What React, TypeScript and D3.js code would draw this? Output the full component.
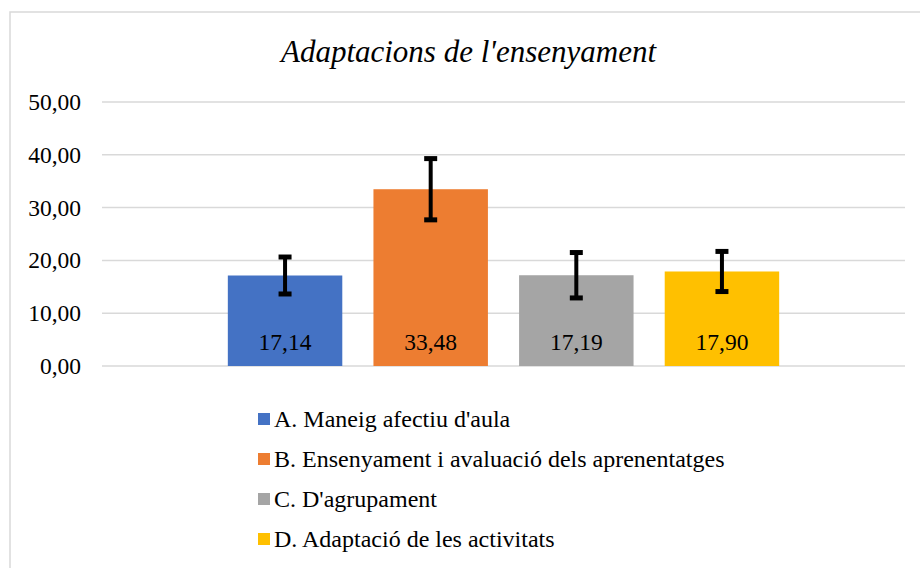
import React from "react";
import * as d3 from "d3";

const width = 920,
  height = 568;

const title = "Adaptacions de l'ensenyament";
const series = [
  "A. Maneig afectiu d'aula",
  "B. Ensenyament i avaluació dels aprenentatges",
  "C. D'agrupament",
  "D. Adaptació de les activitats",
];
const means = [17.14, 33.48, 17.19, 17.9];
const errors = [3.5, 5.8, 4.3, 3.8];
const colors = ["#4472C4", "#ED7D31", "#A5A5A5", "#FFC000"];
const yTicks = [0, 10, 20, 30, 40, 50];

const margin = { left: 102, right: 15, top: 102, bottom: 202 };
const FONT = "Liberation Serif";

const App = () => {
  const y = d3
    .scaleLinear()
    .domain([0, 50])
    .range([height - margin.bottom, margin.top]);

  const x = d3
    .scaleBand()
    .domain(series)
    .range([margin.left, width - margin.right])
    .paddingInner(0.214)
    .paddingOuter(0.864);

  const fmt = (v: number) => d3.format(".2f")(v).replace(".", ",");
  const txt = { fontFamily: FONT };

  return (
    <svg width={width} height={height} style={{ position: "absolute", left: 0, top: 0, background: "#fff" }}>
      {/* chart border */}
      <rect x={10} y={12} width={width + 10} height={height + 10} fill="#fff" stroke="#d9d9d9" strokeWidth={1.5} />

      <text x={468.5} y={62} textAnchor="middle" fontSize={31} fontStyle="italic" fill="#000" style={txt}>
        {title}
      </text>

      {/* grid + y labels */}
      <g>
        {yTicks.map((t) => (
          <g key={t}>
            <line
              x1={margin.left}
              x2={width - margin.right}
              y1={y(t)}
              y2={y(t)}
              stroke="#d9d9d9"
              strokeWidth={1.5}
            />
            <text x={81} y={y(t) + 8} textAnchor="end" fontSize={23.5} fill="#000" style={txt}>
              {fmt(t)}
            </text>
          </g>
        ))}
      </g>

      {/* bars */}
      <g>
        {series.map((s, i) => (
          <rect
            key={s}
            x={x(s)}
            y={y(means[i])}
            width={x.bandwidth()}
            height={y(0) - y(means[i])}
            fill={colors[i]}
          />
        ))}
      </g>

      {/* error bars */}
      <g stroke="#000" strokeWidth={4}>
        {series.map((s, i) => {
          const cx = (x(s) as number) + x.bandwidth() / 2;
          const hi = y(means[i] + errors[i]);
          const lo = y(means[i] - errors[i]);
          return (
            <g key={s}>
              <line x1={cx} x2={cx} y1={hi} y2={lo} />
              <line x1={cx - 6.5} x2={cx + 6.5} y1={hi} y2={hi} strokeWidth={5} />
              <line x1={cx - 6.5} x2={cx + 6.5} y1={lo} y2={lo} strokeWidth={5} />
            </g>
          );
        })}
      </g>

      {/* value labels */}
      <g>
        {series.map((s, i) => (
          <text
            key={s}
            x={(x(s) as number) + x.bandwidth() / 2}
            y={349.5}
            textAnchor="middle"
            fontSize={23.5}
            fill="#000"
            style={txt}
          >
            {fmt(means[i])}
          </text>
        ))}
      </g>

      {/* legend */}
      <g>
        {series.map((s, i) => (
          <g key={s} transform={`translate(258, ${427 + i * 40})`}>
            <rect x={0} y={-14} width={12} height={12} fill={colors[i]} />
            <text x={16} y={0} fontSize={24} fill="#000" style={txt}>
              {s}
            </text>
          </g>
        ))}
      </g>
    </svg>
  );
};

export default App;
